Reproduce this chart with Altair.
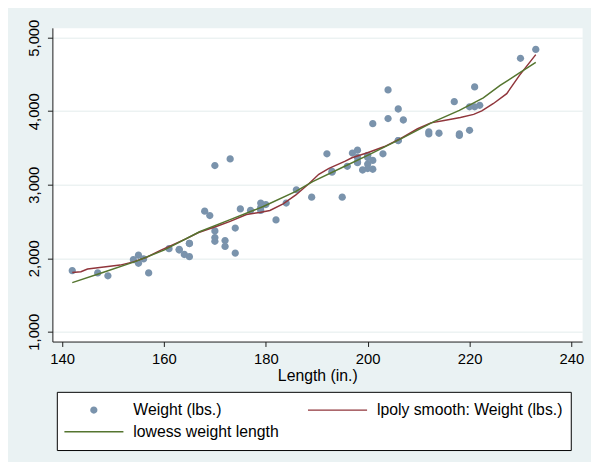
import altair as alt
import pandas as pd

# Stata auto data: length (in.) and weight (lbs.)
length = [186, 173, 168, 196, 222, 218, 170, 200, 207, 200,
          221, 204, 204, 163, 212, 193, 200, 179, 197, 163,
          206, 206, 220, 147, 179, 233, 230, 201, 169, 221,
          212, 198, 217, 195, 220, 198, 198, 218, 200, 180,
          206, 170, 157, 165, 182, 201, 214, 198, 201, 199,
          203, 179, 189, 174, 177, 170, 165, 170, 184, 161,
          172, 149, 154, 192, 142, 164, 174, 165, 175, 172,
          155, 155, 156, 193]
weight = [2930, 3350, 2640, 3250, 4080, 3670, 2230, 3280, 3880, 3400,
          4330, 3900, 4290, 2110, 3690, 3180, 3220, 2750, 3430, 2120,
          3600, 3600, 3740, 1800, 2650, 4840, 4720, 3830, 2580, 4060,
          3720, 3370, 4130, 2830, 4060, 3310, 3300, 3690, 3370, 2730,
          4030, 3260, 1800, 2200, 2520, 3330, 3700, 3470, 3210, 3200,
          3420, 2690, 2830, 2070, 2650, 2370, 2020, 2280, 2750, 2130,
          2240, 1760, 1980, 3420, 1830, 2050, 2410, 2200, 2670, 2160,
          2040, 1930, 1990, 3170]

# lpoly smooth
lpoly_x = [142.0, 143.7, 145.0, 148.2, 151.4, 154.0, 156.6, 159.2, 161.7, 164.3,
           166.8, 170.4, 173.0, 176.2, 178.8, 180.8, 183.4, 185.9, 188.5, 190.4,
           192.4, 195.6, 196.9, 200.1, 203.3, 206.6, 209.8, 212.4, 215.0, 218.2,
           220.8, 222.4, 224.7, 227.3, 229.8, 233.0]
lpoly_y = [1806, 1816, 1852, 1879, 1906, 1950, 2013, 2102, 2179, 2263,
           2349, 2434, 2501, 2595, 2622, 2649, 2739, 2860, 3016, 3142,
           3223, 3321, 3366, 3438, 3519, 3634, 3761, 3841, 3872, 3913,
           3957, 4005, 4105, 4239, 4487, 4770]

# lowess
lowess_x = [142.0, 148.0, 154.6, 160.0, 167.0, 173.0, 179.5, 185.9, 189.2, 195.6,
            200.1, 206.6, 213.0, 218.0, 222.7, 226.0, 229.8, 233.0]
lowess_y = [1668, 1805, 1960, 2110, 2360, 2524, 2703, 2909, 3043, 3254,
            3402, 3626, 3859, 4010, 4181, 4350, 4522, 4665]

series = ["Weight (lbs.)", "lpoly smooth: Weight (lbs.)", "lowess weight length"]
colors = ["#7A93AC", "#90353B", "#55752F"]
x_ticks = [140, 160, 180, 200, 220, 240]
y_ticks = [1000, 2000, 3000, 4000, 5000]

circle_path = "M0.123,0A0.123,0.123,0,1,1,-0.123,0A0.123,0.123,0,1,1,0.123,0Z"
line_path = "M-1,-0.024L1,-0.024L1,0.024L-1,0.024Z"

df_pts = pd.DataFrame({"length": length, "weight": weight, "series": series[0]})
df_lp = pd.DataFrame({"length": lpoly_x, "weight": lpoly_y})
df_lw = pd.DataFrame({"length": lowess_x, "weight": lowess_y})

xscale = alt.Scale(domain=[138.1, 242.1], nice=False, zero=False)
yscale = alt.Scale(domain=[866, 5134], nice=False, zero=False)

xaxis = alt.Axis(values=x_ticks, format=".0f", tickSize=5, labelPadding=5,
                 title="Length (in.)", titlePadding=2, grid=False, labelFlush=False)
yaxis = alt.Axis(values=y_ticks, format=",.0f", tickSize=5, labelPadding=9, labelAngle=270,
                 labelAlign="center", labelBaseline="alphabetic", title=None, grid=True,
                 gridColor="#E3ECEC", gridWidth=1, labelFlush=False)

legend = alt.Legend(title=None, orient="none", legendX=4.5, legendY=369, columns=2,
                    direction="horizontal",
                    columnPadding=29, rowPadding=0, clipHeight=22, symbolSize=3600,
                    symbolStrokeWidth=0, symbolOpacity=1, labelOffset=10,
                    labelFontSize=16, labelFont="Liberation Sans", labelColor="black",
                    labelLimit=400, padding=7.5, fillColor="white", strokeColor="black")

X = alt.X("length:Q", scale=xscale, axis=xaxis)
Y = alt.Y("weight:Q", scale=yscale, axis=yaxis)

pts = alt.Chart(df_pts).mark_point(filled=True, opacity=1, size=3600).encode(
    x=X, y=Y,
    color=alt.Color("series:N", sort=series,
                    scale=alt.Scale(domain=series, range=colors), legend=legend),
    shape=alt.Shape("series:N", sort=series,
                    scale=alt.Scale(domain=series, range=[circle_path, line_path, line_path]),
                    legend=legend),
)

red = alt.Chart(df_lp).mark_line(color=colors[1], strokeWidth=1.5).encode(x=X, y=Y)
green = alt.Chart(df_lw).mark_line(color=colors[2], strokeWidth=1.5).encode(x=X, y=Y)

chart = alt.layer(pts, red, green).properties(
    width=537, height=318,
    autosize=alt.AutoSizeParams(type="none"),
    padding={"left": 45, "top": 17, "right": 9, "bottom": 119},
    background="#EAF2F3",
).configure_view(fill="white", stroke="transparent").configure_axis(
    domainColor="#1a1a1a", tickColor="#1a1a1a", domainWidth=1, tickWidth=1,
    labelFont="Liberation Sans", labelFontSize=15, labelColor="black",
    titleFont="Liberation Sans", titleFontSize=16, titleFontWeight="normal",
    titleColor="black",
)

chart.save("out.html", embed_options={"renderer": "svg", "actions": False})
